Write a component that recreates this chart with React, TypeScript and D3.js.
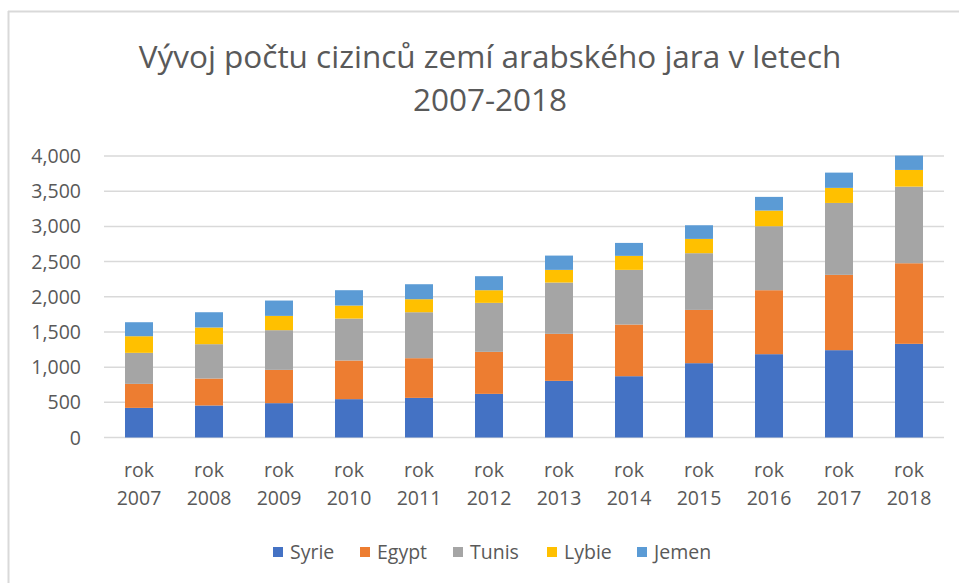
import React from "react";
import * as d3 from "d3";

const years = ["2007","2008","2009","2010","2011","2012","2013","2014","2015","2016","2017","2018"];
const seriesNames = ["Syrie","Egypt","Tunis","Lybie","Jemen"];
const syrie = [421,455,488,545,563,620,805,871,1056,1184,1241,1331];
const egypt = [341,383,473,549,564,597,668,734,757,909,1070,1145];
const tunis = [441,488,564,596,653,696,729,777,806,909,1022,1089];
const lybie = [236,237,203,185,185,180,180,199,203,223,214,237];
const jemen = [199,217,218,218,213,199,203,184,194,194,217,204];
const colors = ["#4472C4","#ED7D31","#A5A5A5","#FFC000","#5B9BD5"];
const yTicks = [0,500,1000,1500,2000,2500,3000,3500,4000];
const titleLines = ["Vývoj počtu cizinců zemí arabského jara v letech","2007-2018"];

const W = 959, H = 583;
const FONT = "'Open Sans', sans-serif";

export default function App() {
  const values = [syrie, egypt, tunis, lybie, jemen];
  const rows = years.map((y, i) => {
    const r: any = { year: y };
    seriesNames.forEach((s, k) => (r[s] = values[k][i]));
    return r;
  });
  const stacked = d3.stack().keys(seriesNames)(rows);
  const x = d3.scaleBand().domain(years).range([104, 944]).paddingInner(0.6).paddingOuter(0.3);
  const y = d3.scaleLinear().domain([0, 4000]).range([437.5, 156]);
  const fmt = d3.format(",");
  const legendX = [273, 360, 453, 547, 637];

  return (
    <svg width={W} height={H} style={{ position: "absolute", left: 0, top: 0, background: "#fff" }} fontFamily={FONT}>
      <rect x={0} y={0} width={W} height={H} fill="#fff" />
      <line x1={8.5} x2={8.5} y1={11} y2={H} stroke="#d9d9d9" strokeWidth={2} />
      <line x1={8} x2={W} y1={11.5} y2={11.5} stroke="#d9d9d9" strokeWidth={2} />
      {titleLines.map((t, i) => (
        <text key={i} x={490} y={68 + i * 43} textAnchor="middle" fontSize={31.5} fill="#595959">{t}</text>
      ))}
      {yTicks.map((t) => (
        <g key={t}>
          <line x1={104} x2={944} y1={y(t)} y2={y(t)} stroke="#d9d9d9" strokeWidth={1.5} />
          <text x={81} y={y(t)} dy="0.36em" textAnchor="end" fontSize={19.5} fill="#595959">{fmt(t)}</text>
        </g>
      ))}
      {stacked.map((layer, k) => (
        <g key={layer.key} fill={colors[k]}>
          {layer.map((d, i) => (
            <rect key={i} x={x(years[i])} width={x.bandwidth()} y={y(d[1])} height={y(d[0]) - y(d[1])} />
          ))}
        </g>
      ))}
      {years.map((yr) => (
        <text key={yr} x={(x(yr) as number) + x.bandwidth() / 2} textAnchor="middle" fontSize={19.5} fill="#595959">
          <tspan x={(x(yr) as number) + x.bandwidth() / 2} y={477}>rok</tspan>
          <tspan x={(x(yr) as number) + x.bandwidth() / 2} y={505}>{yr}</tspan>
        </text>
      ))}
      {seriesNames.map((s, k) => (
        <g key={s}>
          <rect x={legendX[k]} y={547} width={10} height={10} fill={colors[k]} />
          <text x={legendX[k] + 17} y={552} dy="0.36em" fontSize={19.5} fill="#595959">{s}</text>
        </g>
      ))}
    </svg>
  );
}
